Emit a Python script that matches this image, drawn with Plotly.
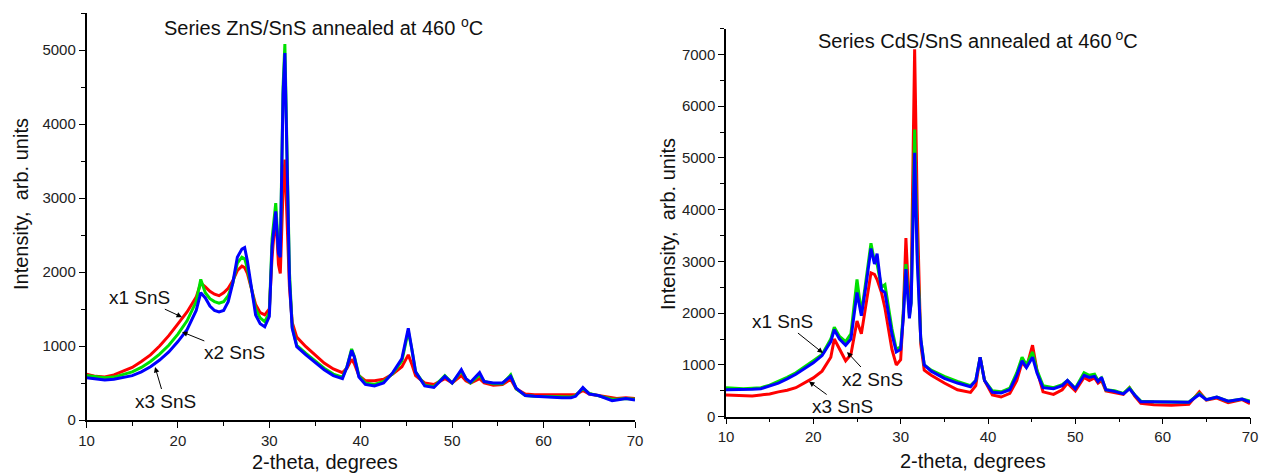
import plotly.graph_objects as go

# ZnS/SnS panel (left)
zns_theta = [10, 11, 12, 13, 14, 15, 16, 17, 18, 19, 20, 21, 22, 22.5, 23, 23.5, 24, 24.5, 25, 25.5,
             26, 26.5, 27, 27.3, 27.6, 28, 28.5, 29, 29.5, 30, 30.3, 30.7, 31.0, 31.2, 31.5, 31.7, 31.9,
             32.2, 32.5, 33, 34, 35, 36, 37, 38, 38.5, 39, 39.3, 39.8, 40.5, 41.5, 42.5, 43.5, 44.5,
             45.2, 45.6, 46, 47, 48, 49.2, 50, 51, 51.5, 52, 53, 53.5, 54.5, 55.5, 56.4, 57, 58, 59,
             60, 61, 62, 63, 63.5, 64.3, 65, 66, 67, 67.5, 68, 69, 70]
zns_x1 = [620, 590, 580, 610, 660, 710, 790, 880, 1000, 1140, 1300, 1460, 1660, 1850, 1800, 1740, 1700,
          1680, 1720, 1780, 1880, 2020, 2080, 2060, 1980, 1800, 1560, 1450, 1420, 1500, 2200, 2800, 2100,
          1980, 3100, 3520, 2800, 1800, 1320, 1120, 990, 880, 770, 690, 640, 700, 820, 760, 600, 530,
          530, 550, 620, 720, 880, 750, 600, 500, 480, 560, 500, 600, 530, 500, 560, 500, 470, 480, 550,
          420, 350, 340, 340, 330, 330, 330, 340, 400, 350, 330, 310, 290, 290, 300, 290]
zns_x2 = [600, 580, 570, 580, 610, 650, 710, 790, 890, 1010, 1160, 1340, 1600, 1900, 1720, 1640, 1600,
          1580, 1600, 1680, 1850, 2120, 2200, 2180, 2050, 1820, 1500, 1380, 1330, 1450, 2450, 2930, 2300,
          2250, 4500, 5080, 4000, 2000, 1260, 1010, 900, 800, 700, 620, 580, 720, 960, 860, 600, 500,
          480, 520, 630, 800, 1200, 950, 650, 470, 450, 600, 500, 660, 560, 500, 610, 520, 490, 490, 610,
          420, 330, 320, 320, 310, 310, 310, 330, 430, 360, 330, 300, 280, 280, 290, 280]
zns_x3 = [570, 550, 540, 550, 570, 600, 650, 720, 810, 920, 1060, 1220, 1480, 1720, 1650, 1540, 1480,
          1460, 1480, 1600, 1850, 2200, 2310, 2330, 2150, 1800, 1420, 1300, 1260, 1400, 2350, 2820, 2250,
          2200, 4400, 4960, 3800, 1900, 1240, 990, 880, 780, 680, 600, 560, 720, 940, 850, 580, 480,
          460, 500, 640, 830, 1240, 950, 650, 460, 440, 590, 500, 680, 560, 510, 640, 520, 500, 500, 590,
          430, 330, 320, 310, 300, 300, 300, 320, 440, 350, 330, 290, 260, 270, 290, 270]

# CdS/SnS panel (right)
cds_theta = [10, 11, 12, 13, 14, 15, 16, 17, 18, 19, 20, 21, 22, 22.4, 23, 23.7, 24.3, 25, 25.5, 26,
             26.6, 27, 27.3, 27.8, 28.2, 29, 29.5, 30, 30.3, 30.6, 31.0, 31.2, 31.6, 31.9, 32.3, 32.7,
             33.5, 35, 36.5, 38, 38.6, 39.1, 39.6, 40.5, 41.5, 42.5, 43.3, 43.9, 44.4, 45.1, 45.6, 46.3,
             47.5, 48.5, 49.1, 50, 51, 51.6, 52.2, 52.6, 53, 53.5, 54.5, 55.5, 56.2, 56.8, 57.5, 59, 61,
             63, 64.2, 65, 66.2, 67.5, 69.1, 70]
cds_x1 = [420, 410, 400, 400, 420, 440, 480, 510, 560, 650, 750, 880, 1150, 1500, 1300, 1080, 1200, 1850,
          1600, 2100, 2780, 2750, 2650, 2400, 2100, 1300, 1000, 1100, 2000, 3450, 2000, 2500, 7100, 4000,
          1400, 900, 800, 650, 520, 470, 600, 1150, 700, 420, 380, 450, 700, 1050, 950, 1380, 900, 480,
          430, 520, 650, 500, 760, 700, 750, 650, 700, 500, 470, 430, 560, 400, 260, 230, 220, 240, 480,
          320, 360, 270, 330, 250]
cds_x2 = [560, 550, 540, 550, 560, 610, 680, 760, 850, 960, 1080, 1200, 1500, 1730, 1550, 1450, 1600, 2650,
          2000, 2600, 3350, 3000, 2950, 2500, 2550, 1700, 1300, 1350, 2000, 2950, 1950, 2200, 5550, 3200,
          1500, 1000, 900, 780, 680, 600, 700, 1150, 700, 500, 480, 550, 850, 1150, 1000, 1250, 900, 600,
          560, 620, 700, 550, 850, 800, 820, 700, 750, 520, 500, 450, 560, 420, 300, 290, 280, 280, 450,
          330, 380, 300, 340, 300]
cds_x3 = [520, 520, 520, 530, 540, 590, 650, 730, 820, 930, 1040, 1180, 1450, 1680, 1500, 1380, 1500, 2400,
          1950, 2500, 3250, 2950, 3150, 2450, 2400, 1600, 1250, 1300, 1900, 2850, 1900, 2200, 5100, 3000,
          1500, 1000, 880, 740, 650, 580, 700, 1150, 700, 470, 460, 520, 800, 1080, 950, 1150, 850, 560,
          540, 600, 700, 540, 800, 760, 780, 680, 760, 520, 490, 440, 540, 420, 290, 290, 280, 280, 430,
          330, 380, 300, 340, 280]

series_names = ["x1 SnS", "x2 SnS", "x3 SnS"]
colors = ["#ff0000", "#00e000", "#0000ff"]

FONT = "Liberation Sans, Arial, sans-serif"

fig = go.Figure()

for ys, name, col in zip([zns_x1, zns_x2, zns_x3], series_names, colors):
    fig.add_trace(go.Scatter(x=zns_theta, y=ys, mode="lines", name=name,
                             line=dict(color=col, width=3), xaxis="x", yaxis="y"))
for ys, name, col in zip([cds_x1, cds_x2, cds_x3], series_names, colors):
    fig.add_trace(go.Scatter(x=cds_theta, y=ys, mode="lines", name=name,
                             line=dict(color=col, width=3), xaxis="x2", yaxis="y2"))

W, H = 1265, 473

def xax(domain, anchor):
    return dict(domain=domain, anchor=anchor, range=[10, 70], dtick=10, tick0=10,
                automargin=False,
                showline=True, linecolor="black", linewidth=1.5, mirror=False,
                ticks="outside", ticklen=6, tickwidth=1.2, tickcolor="black",
                minor=dict(dtick=5, ticks="outside", ticklen=4, tickwidth=1.2, tickcolor="black"),
                showgrid=False, zeroline=False,
                tickfont=dict(size=15, color="#222", family=FONT))

def yax(domain, anchor, top):
    return dict(domain=domain, anchor=anchor, range=[0, top], dtick=1000, tick0=0,
                automargin=False,
                showline=True, linecolor="black", linewidth=1.5, mirror=False,
                ticks="outside", ticklen=6, tickwidth=1.2, tickcolor="black",
                minor=dict(dtick=500, ticks="outside", ticklen=4, tickwidth=1.2, tickcolor="black"),
                showgrid=False, zeroline=False,
                tickfont=dict(size=15, color="#222", family=FONT))

fig.update_layout(
    width=W, height=H,
    margin=dict(l=0, r=0, t=0, b=0, pad=0),
    paper_bgcolor="white", plot_bgcolor="white",
    showlegend=False,
    font=dict(family=FONT, color="#111", size=19),
    xaxis=xax([86.5 / W, 635 / W], "y"),
    yaxis=yax([(H - 420) / H, (H - 13) / H], "x", 5500),
    xaxis2=xax([726 / W, 1250 / W], "y2"),
    yaxis2=yax([(H - 416.7) / H, (H - 28.5) / H], "x2", 7500),
)

def txt(x, y, s, size=20, **kw):
    fig.add_annotation(x=x / W, y=1 - y / H, xref="paper", yref="paper", text=s,
                       xanchor="center", yanchor="middle",
                       showarrow=False, font=dict(size=size, family=FONT, color="#111"), **kw)

# titles and axis titles
txt(323, 27, "Series ZnS/SnS annealed at 460 <sup>o</sup>C")
txt(978, 40, "Series CdS/SnS annealed at 460<sup> o</sup>C")
txt(325, 462, "2-theta, degrees")
txt(973, 461, "2-theta, degrees")
txt(21, 204, "Intensity,\u00a0 arb. units", textangle=-90)
txt(668, 224, "Intensity,\u00a0 arb. units", textangle=-90)

# arrow labels
arrows = [
    ("x", "y", 20.45, 1390, -43, -20, "x1 SnS"),
    ("x", "y", 20.45, 1190, 52, 21, "x2 SnS"),
    ("x", "y", 17.5, 716, 10, 34, "x3 SnS"),
    ("x2", "y2", 21.1, 1230, -40, -32, "x1 SnS"),
    ("x2", "y2", 23.86, 1250, 25, 27, "x2 SnS"),
    ("x2", "y2", 19.5, 680, 34, 25, "x3 SnS"),
]
for xr, yr, xv, yv, ax, ay, s in arrows:
    fig.add_annotation(x=xv, y=yv, xref=xr, yref=yr, text=s, showarrow=True,
                       ax=ax, ay=ay, arrowhead=2, arrowsize=1.1, arrowwidth=1, arrowcolor="black",
                       standoff=0, font=dict(size=19, family=FONT, color="#111"))

# page body has a default 8px margin; drop it so the figure fills the window
fig.write_html("out.html", config={"displayModeBar": False},
               post_script="document.body.style.margin='0';document.body.style.overflow='hidden';")
